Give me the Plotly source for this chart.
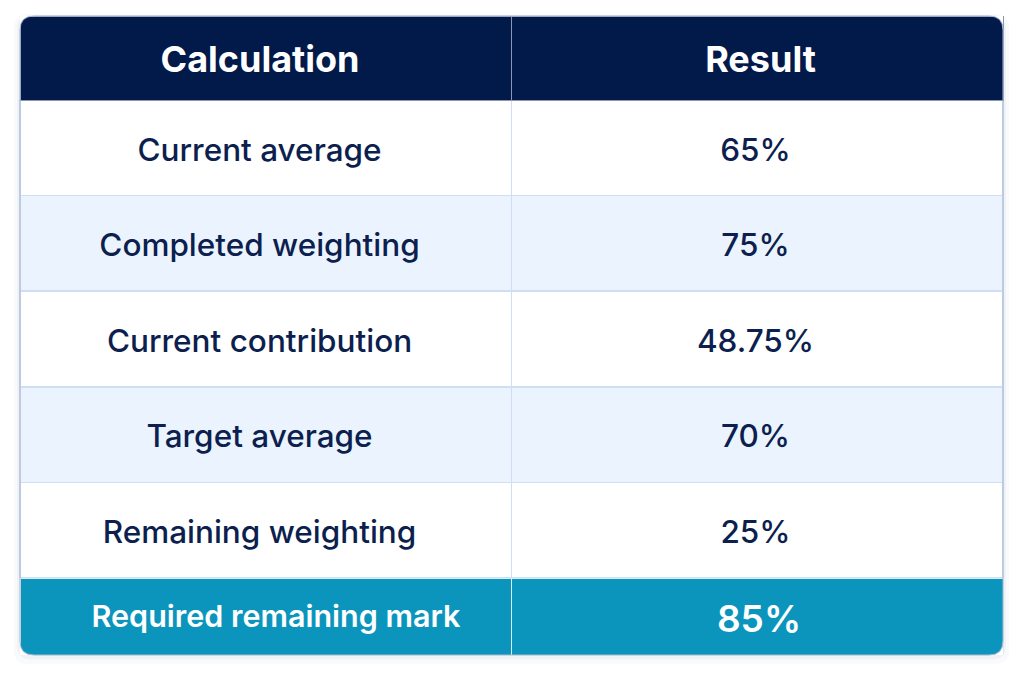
import plotly.graph_objects as go

W, H = 1024, 683

# table contents
header_labels = ["Calculation", "Result"]
calc_names = ["Current average", "Completed weighting", "Current contribution",
              "Target average", "Remaining weighting"]
calc_results = ["65%", "75%", "48.75%", "70%", "25%"]
total_name = "Required remaining mark"
total_result = "85%"

NAVY = "#021a4a"
TEXT = "#0c1f4e"
STRIPE = "#ebf4fe"
GRID = "#cfdef2"
TEAL = "#0b95bd"
CLEAR = "rgba(0,0,0,0)"

# pixel box of the table (page coords)
left, right = 20, 1003
top, body_bottom, bottom = 16, 578, 655
head_h = 84
row_h = (body_bottom - top - head_h) / len(calc_names)
foot_h = bottom - body_bottom
radius = 14

OFF = 8          # default body margin of the html page
SH_HEAD, SH_BODY, SH_FOOT = 21, 29, 18   # push text down to the row middle


def fx(x):
    return (x - OFF) / W


def fy(y):
    return 1 - (y - OFF) / H


def text_span(c1, c2):
    # x domain for two equal columns whose text centres sit at c1 and c2
    w = c2 - c1
    return [fx(c1 - w / 2), fx(c2 + w / 2)]


row_fill = [STRIPE if i % 2 else "white" for i in range(len(calc_names))]
blank = [""] * len(calc_names)
no_line = dict(color=CLEAR, width=0)

fig = go.Figure()

# --- backgrounds and grid ---
fig.add_trace(go.Table(
    domain=dict(x=[fx(left), fx(right)], y=[fy(body_bottom), fy(top)]),
    columnwidth=[1, 1],
    header=dict(values=["", ""], fill_color=NAVY,
                line=dict(color="#8a96b2", width=1), height=head_h),
    cells=dict(values=[blank, blank], fill_color=[row_fill, row_fill],
               line=dict(color=GRID, width=1.5), height=row_h),
))
fig.add_trace(go.Table(
    domain=dict(x=[fx(left), fx(right)], y=[fy(bottom), fy(body_bottom)]),
    columnwidth=[1, 1],
    header=dict(values=["", ""], fill_color=TEAL,
                line=dict(color="#d8eef5", width=1), height=foot_h),
    cells=dict(values=[[], []], height=1),
))

# --- text layers (transparent tables shifted down to centre the text) ---
fig.add_trace(go.Table(
    domain=dict(x=text_span(260, 760.5), y=[fy(body_bottom), fy(top + SH_HEAD)]),
    columnwidth=[1, 1],
    header=dict(values=header_labels, fill_color=CLEAR, line=no_line,
                align="center", height=head_h,
                font=dict(family="Inter", size=36, color="white", weight=700)),
    cells=dict(values=[[], []], height=1),
))
fig.add_trace(go.Table(
    domain=dict(x=text_span(259.5, 755.5), y=[fy(bottom), fy(top + SH_BODY)]),
    columnwidth=[1, 1],
    header=dict(values=["", ""], fill_color=CLEAR, line=no_line, height=head_h),
    cells=dict(values=[calc_names, calc_results], fill_color=CLEAR,
               line=no_line, align="center", height=row_h,
               font=dict(family="Inter", size=31.5, color=TEXT,
                         weight=[500, 550])),
))
fig.add_trace(go.Table(
    domain=dict(x=text_span(276, 759), y=[0, fy(body_bottom + SH_FOOT)]),
    columnwidth=[1, 1],
    header=dict(values=[total_name, total_result], fill_color=CLEAR,
                line=no_line, align="center", height=foot_h,
                font=dict(family="Inter", size=[30.5, 37], color="white",
                          weight=[600, 600])),
    cells=dict(values=[[], []], height=1),
))

# white masks to round the outer corners
x0, x1, y0, y1 = fx(left), fx(right), fy(top), fy(bottom)
rx, ry = radius / W, radius / H
corners = [
    f"M {x0},{y0} L {x0 + rx},{y0} Q {x0},{y0} {x0},{y0 - ry} Z",
    f"M {x1},{y0} L {x1 - rx},{y0} Q {x1},{y0} {x1},{y0 - ry} Z",
    f"M {x0},{y1} L {x0 + rx},{y1} Q {x0},{y1} {x0},{y1 + ry} Z",
    f"M {x1},{y1} L {x1 - rx},{y1} Q {x1},{y1} {x1},{y1 + ry} Z",
]


def rounded(ax0, ay0, ax1, ay1):
    return (f"M {ax0 + rx},{ay0} L {ax1 - rx},{ay0} Q {ax1},{ay0} {ax1},{ay0 - ry} "
            f"L {ax1},{ay1 + ry} Q {ax1},{ay1} {ax1 - rx},{ay1} "
            f"L {ax0 + rx},{ay1} Q {ax0},{ay1} {ax0},{ay1 + ry} "
            f"L {ax0},{ay0 - ry} Q {ax0},{ay0} {ax0 + rx},{ay0} Z")


shapes = []
# soft shadow under the card
for grow, alpha in [(6, 0.025), (3, 0.035)]:
    gx, gy = grow / W, grow / H
    shapes.append(dict(type="path", xref="paper", yref="paper", layer="below",
                       path=rounded(x0 - gx, y0 + gy * 0.3, x1 + gx, y1 - gy * 1.5),
                       fillcolor=f"rgba(20,40,90,{alpha})", line=dict(width=0)))
for p in corners:
    shapes.append(dict(type="path", path=p, xref="paper", yref="paper",
                       fillcolor="white", line=dict(width=0), layer="above"))
shapes.append(dict(type="path", path=rounded(x0, y0, x1, y1), xref="paper",
                   yref="paper", line=dict(color="#a9b8d0", width=1), layer="above"))

fig.update_layout(
    width=W, height=H,
    margin=dict(l=0, r=0, t=0, b=0),
    paper_bgcolor="white",
    plot_bgcolor="white",
    shapes=shapes,
)

fig.write_html("out.html")
